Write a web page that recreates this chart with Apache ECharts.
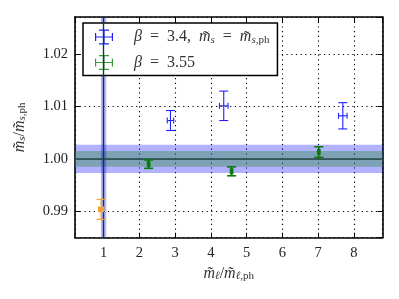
<!DOCTYPE html>
<html><head><meta charset="utf-8">
<script src="https://cdn.jsdelivr.net/npm/echarts@6/dist/echarts.min.js"></script>
<style>html,body{margin:0;padding:0;background:#fff}#c{width:399px;height:299px}</style>
</head><body><div id="c"></div>
<script>
// ---- data ----
const blueX = [2.87, 4.36, 7.69];
const blueY = [1.0073, 1.0101, 1.0082];
const blueXErr = [0.09, 0.12, 0.12];
const blueYErr = [0.0019, 0.0028, 0.0025];

const greenX = [2.26, 4.58, 7.02];
const greenY = [0.9990, 0.99763, 1.0013];
const greenXErr = [0.03, 0.03, 0.03];
const greenYErr = [0.0008, 0.00085, 0.001];

const orangeX = [0.93];
const orangeY = [0.9904];
const orangeXErr = [0.07];
const orangeYErr = [0.0019];

const hLineY = 1.00;
const blueBandHalf = 0.0027;
const greenBandHalf = 0.0015;
const vLineX = 1;
const vBandHalf = 0.075;

const xMin = 0.2, xMax = 8.8;
const yMin = 0.985, yMax = 1.027;

const seriesNames = ['β3.4', 'β3.55'];

function zip(xs, ys, xe, ye){ return xs.map((x,i)=>[x, ys[i], xe[i], ye[i]]); }

function makeRender(color, lw, marker){
  return function(params, api){
    const x = api.value(0), y = api.value(1), xe = api.value(2), ye = api.value(3);
    const c = api.coord([x, y]);
    const t = api.coord([x, y + ye]);
    const b = api.coord([x, y - ye]);
    const l = api.coord([x - xe, y]);
    const r = api.coord([x + xe, y]);
    const cap = 4.5, xcap = 3;
    const st = {stroke: color, lineWidth: lw, fill: null};
    const ch = [
      {type:'line', shape:{x1:c[0], y1:t[1], x2:c[0], y2:b[1]}, style:st},
      {type:'line', shape:{x1:c[0]-cap, y1:t[1], x2:c[0]+cap, y2:t[1]}, style:st},
      {type:'line', shape:{x1:c[0]-cap, y1:b[1], x2:c[0]+cap, y2:b[1]}, style:st},
      {type:'line', shape:{x1:l[0], y1:c[1], x2:r[0], y2:c[1]}, style:st},
      {type:'line', shape:{x1:l[0], y1:c[1]-xcap, x2:l[0], y2:c[1]+xcap}, style:st},
      {type:'line', shape:{x1:r[0], y1:c[1]-xcap, x2:r[0], y2:c[1]+xcap}, style:st}
    ];
    if (marker) ch.push({type:'rect', shape:{x:c[0]-2, y:c[1]-2.5, width:4, height:5}, style:{fill:color}});
    return {type:'group', children: ch};
  };
}

const icon = 'path://M8.4,0h1.2v15h-1.2z M0,6.9h18v1.2h-18z M4,0h10v1.2h-10z M4,13.8h10v1.2h-10z M0,3.5h1.2v8h-1.2z M16.8,3.5h1.2v8h-1.2z';

const serif = 'Liberation Serif';
const chart = echarts.init(document.getElementById('c'), null, {renderer:'canvas'});

const axisCommon = {
  axisLine:{show:true, onZero:false, lineStyle:{color:'#000', width:1.6}},
  axisTick:{show:true, inside:true, length:5, lineStyle:{color:'#000', width:1}},
};
const txt = '#333';
function richFor(fs){
  const sf = Math.round(fs*0.7);
  return {
    i:{fontFamily:serif, fontStyle:'italic', fontSize:fs, color:txt},
    n:{fontFamily:serif, fontSize:fs, color:txt},
    s:{fontFamily:serif, fontStyle:'italic', fontSize:sf, color:txt, padding:[6,0,0,0]},
    p:{fontFamily:serif, fontSize:sf, color:txt, padding:[6,0,0,0]}
  };
}

chart.setOption({
  animation:false,
  backgroundColor:'#fff',
  grid:{left:75, top:17, right:16.5, bottom:61.3},
  legend:{
    left:83, top:23, orient:'vertical',
    data: [
      {name:'β3.4', icon:icon, itemStyle:{color:'#2020ff', borderWidth:0}},
      {name:'β3.55', icon:icon, itemStyle:{color:'#3a9a3a', borderWidth:0}}
    ],
    backgroundColor:'#fff', borderColor:'#000', borderWidth:1.5, borderRadius:0,
    padding:[6, 8, 5, 12],
    itemGap: 9, itemWidth: 18, itemHeight: 15,
    textStyle:{fontFamily:serif, fontSize:16, color:txt, padding:[0,0,0,16], rich:richFor(16)},
    formatter: function(name){
      if (name === 'β3.4') return '{i|β}{n|  =  3.4,  }{i|m̃}{s|s}{n|  =  }{i|m̃}{s|s}{p|,ph}';
      return '{i|β}{n|  =  3.55}';
    }
  },
  xAxis:[
    Object.assign({type:'value', min:xMin, max:xMax, splitNumber:8, position:'bottom',
      name:'{i|m̃}{s|ℓ}{n|/}{i|m̃}{s|ℓ}{p|,ph}', nameLocation:'middle', nameGap:22,
      nameTextStyle:{fontFamily:serif, fontSize:16, color:txt, rich:richFor(16)},
      axisLabel:{fontFamily:serif, fontSize:14.5, color:'#222', margin:8, showMinLabel:false, showMaxLabel:false,
        formatter:v=>String(Math.round(v))},
      splitLine:{show:true, lineStyle:{color:'#000', type:[1.2,3.5], width:1.1}}
    }, axisCommon),
    Object.assign({type:'value', min:xMin, max:xMax, splitNumber:8, position:'top',
      axisLabel:{show:false}, splitLine:{show:false}}, axisCommon)
  ],
  yAxis:[
    Object.assign({type:'value', min:yMin, max:yMax, splitNumber:5, position:'left',
      name:'{i|m̃}{s|s}{n|/}{i|m̃}{s|s}{p|,ph}', nameLocation:'middle', nameGap:47,
      nameTextStyle:{fontFamily:serif, fontSize:16, color:txt, rich:richFor(16)},
      axisLabel:{fontFamily:serif, fontSize:14.5, color:'#222', margin:7, showMinLabel:false, showMaxLabel:false,
        formatter:v=>v.toFixed(2)},
      splitLine:{show:true, lineStyle:{color:'#000', type:[1.2,3.5], width:1.1}}
    }, axisCommon),
    Object.assign({type:'value', min:yMin, max:yMax, splitNumber:5, position:'right',
      axisLabel:{show:false}, splitLine:{show:false}}, axisCommon)
  ],
  series:[
    {type:'line', name:'bands', data:[], silent:true, z:1,
      markArea:{silent:true, itemStyle:{color:'rgba(0,0,255,0.3)'}, data:[
        [{yAxis:hLineY-blueBandHalf}, {yAxis:hLineY+blueBandHalf}]
      ]}},
    {type:'line', name:'gband', data:[], silent:true, z:1,
      markArea:{silent:true, itemStyle:{color:'rgba(60,140,90,0.45)'}, data:[
        [{yAxis:hLineY-greenBandHalf}, {yAxis:hLineY+greenBandHalf}]
      ]},
      markLine:{silent:true, symbol:'none', label:{show:false}, lineStyle:{color:'#3c8c5a', width:1, type:'solid'}, data:[
        {yAxis:hLineY-greenBandHalf}, {yAxis:hLineY+greenBandHalf}
      ]}},
    {type:'line', name:'hline', data:[], silent:true, z:3,
      markLine:{silent:true, symbol:'none', label:{show:false}, lineStyle:{color:'#2d4550', width:1.6, type:'solid'}, data:[
        {yAxis:hLineY}
      ]}},
    {type:'line', name:'vband', data:[], silent:true, z:4,
      markArea:{silent:true, itemStyle:{color:'rgba(0,0,255,0.28)'}, data:[
        [{xAxis:vLineX-vBandHalf}, {xAxis:vLineX+vBandHalf}]
      ]},
      markLine:{silent:true, symbol:'none', label:{show:false}, lineStyle:{color:'#1a3440', width:1.4, type:'solid'}, data:[
        {xAxis:vLineX}
      ]}},
    {type:'custom', name:'orange', renderItem:makeRender('#f5a030', 1.2, true), z:6,
      data: zip(orangeX, orangeY, orangeXErr, orangeYErr)},
    {type:'custom', name:'β3.4', renderItem:makeRender('#2020ff', 1.1, false), z:6,
      itemStyle:{color:'#2020ff'},
      data: zip(blueX, blueY, blueXErr, blueYErr)},
    {type:'custom', name:'β3.55', renderItem:makeRender('#0a7a0a', 1.6, false), z:6,
      itemStyle:{color:'#3a9a3a'},
      data: zip(greenX, greenY, greenXErr, greenYErr)}
  ]
});
</script></body></html>
